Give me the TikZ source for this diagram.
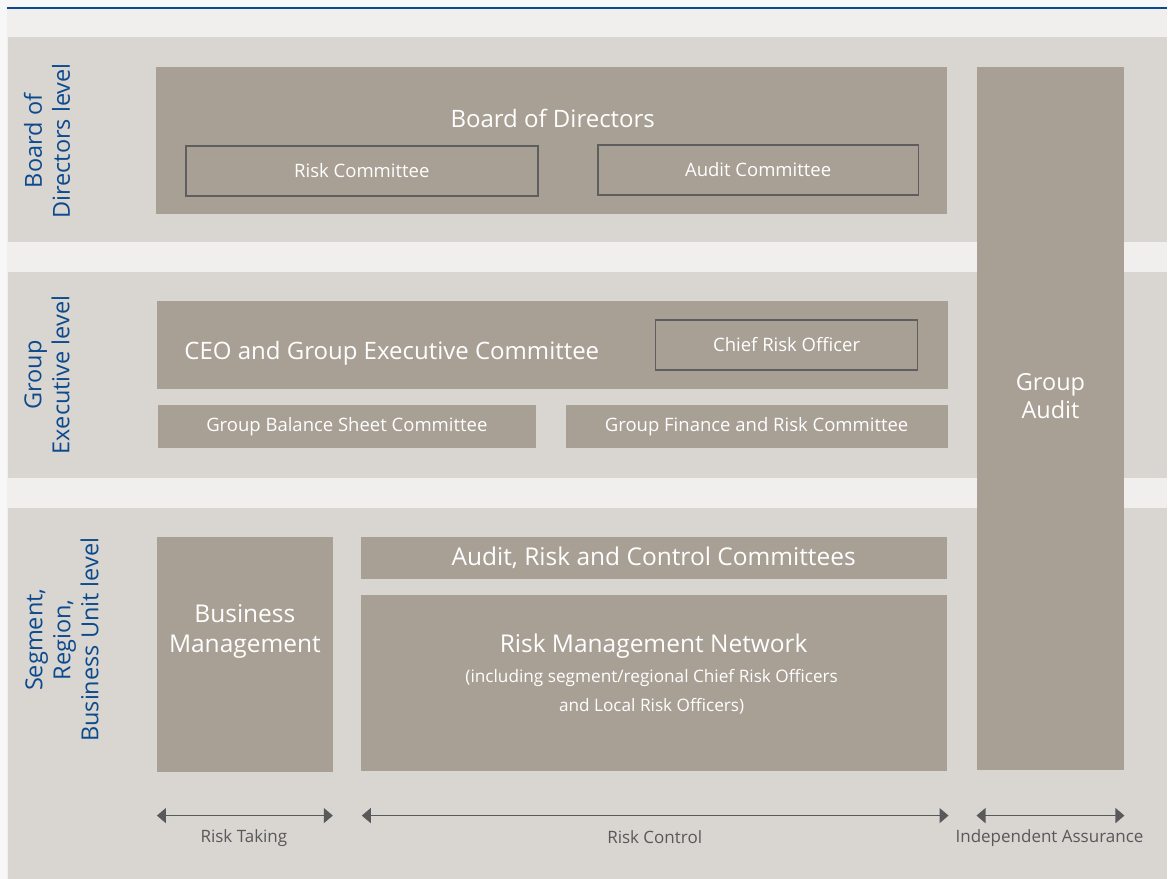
\documentclass[tikz,border=0pt]{standalone}
\usepackage{fontspec}
\setmainfont{Open Sans}
\usetikzlibrary{arrows.meta, positioning}
\definecolor{pagebg}{HTML}{F0EFED}
\definecolor{bandbg}{HTML}{D9D5D0}
\definecolor{boxbg}{HTML}{A89F95}
\definecolor{rimcol}{HTML}{5E5E5E}
\definecolor{levelblue}{HTML}{0B4A8E}
\definecolor{spancol}{HTML}{58595B}
\tikzstyle{band} = [fill=bandbg, inner sep=0pt, minimum width=1160pt]
\tikzstyle{box} = [fill=boxbg, inner sep=0pt, text=white, align=center]
\tikzstyle{rim} = [draw=rimcol, line width=1.6pt, inner sep=0pt, text=white, font=\fontsize{18.5}{22}\selectfont]
\tikzstyle{level} = [rotate=90, text=levelblue, align=center, font=\fontsize{23.5}{28}\selectfont]
\tikzstyle{span} = [line width=1.4pt, draw=spancol, {Triangle[length=9pt,width=15pt]}-{Triangle[length=9pt,width=15pt]}]
\tikzstyle{spantext} = [text=spancol, font=\fontsize{17}{20}\selectfont]

\begin{document}
\begin{tikzpicture}[x=1pt, y=-1pt]
        \fill[white!97!black] (0,0) rectangle (1168,879);
        \fill[pagebg] (7,8) rectangle (1168,879);
        \draw[levelblue, line width=1.2pt] (7,8) -- (1168,8);

        % the three levels
        \node (b1) [band, minimum height=205pt] at (588,139.5) {};
        \node (b2) [band, minimum height=206pt] at (588,375) {};
        \node (b3) [band, minimum height=371pt] at (588,693.5) {};
        \node (l1) [level] at (47,141) {Board of\\Directors level};
        \node (l2) [level] at (47,375) {Group\\Executive level};
        \node (l3) [level] at (62,640) {Segment,\\Region,\\Business Unit level};

        % board
        \node (bod) [box, minimum width=791pt, minimum height=147pt] at (551.5,140.5) {};
        \node (bodt) [text=white, font=\fontsize{24}{28}\selectfont] at (553,118) {Board of Directors};
        \node (rc) [rim, minimum width=352pt, minimum height=50pt] at (362,171) {Risk Committee};
        \node (ac) [rim, minimum width=321pt, minimum height=50pt] at (758.5,170) {Audit Committee};

        % group audit
        \node (ga) [box, minimum width=148pt, minimum height=703pt] at (1051,418.5) {};
        \node (gat) [text=white, align=center, font=\fontsize{23.5}{28}\selectfont] at (1051,396) {Group\\Audit};

        % executive
        \node (ceo) [box, minimum width=791pt, minimum height=88pt] at (552.5,345) {};
        \node (ceot) [text=white, font=\fontsize{24}{28}\selectfont] at (392,353) {CEO and Group Executive Committee};
        \node (cro) [rim, minimum width=262pt, minimum height=50pt] at (787,345) {Chief Risk Officer};
        \node (gbsc) [box, minimum width=378pt, minimum height=43pt, font=\fontsize{18.5}{22}\selectfont] at (347,426.5) {Group Balance Sheet Committee};
        \node (gfrc) [box, minimum width=382pt, minimum height=43pt, font=\fontsize{18.5}{22}\selectfont] at (757,426.5) {Group Finance and Risk Committee};

        % business units
        \node (bm) [box, minimum width=176pt, minimum height=235pt] at (245,654.5) {};
        \node (bmt) [text=white, align=center, font=\fontsize{24.5}{30}\selectfont] at (245,632) {Business\\Management};
        \node (arcc) [box, minimum width=586pt, minimum height=42pt, font=\fontsize{24.5}{28}\selectfont] at (654,558) {Audit, Risk and Control Committees};
        \node (rmn) [box, minimum width=586pt, minimum height=176pt] at (654,683) {};
        \node (rmnt) [text=white, font=\fontsize{24.5}{28}\selectfont] at (654,646) {Risk Management Network};
        \node (rmns) [text=white, align=center, font=\fontsize{17.2}{29.5}\selectfont] at (652,692) {(including segment/regional Chief Risk Officers\\and Local Risk Officers)};

        % spans
        \coordinate (rt1) at (157,816);
        \coordinate (rt2) at (333,816);
        \coordinate (rk1) at (362,816);
        \coordinate (rk2) at (949,816);
        \coordinate (ia1) at (977,816);
        \coordinate (ia2) at (1125,816);
        \draw[span] (rt1) -- (rt2);
        \draw[span] (rk1) -- (rk2);
        \draw[span] (ia1) -- (ia2);
        \node (rtt) [spantext] at (244,838) {Risk Taking};
        \node (rkt) [spantext] at (655,838) {Risk Control};
        \node (iat) [spantext] at (1050,838) {Independent Assurance};
\end{tikzpicture}
\end{document}
